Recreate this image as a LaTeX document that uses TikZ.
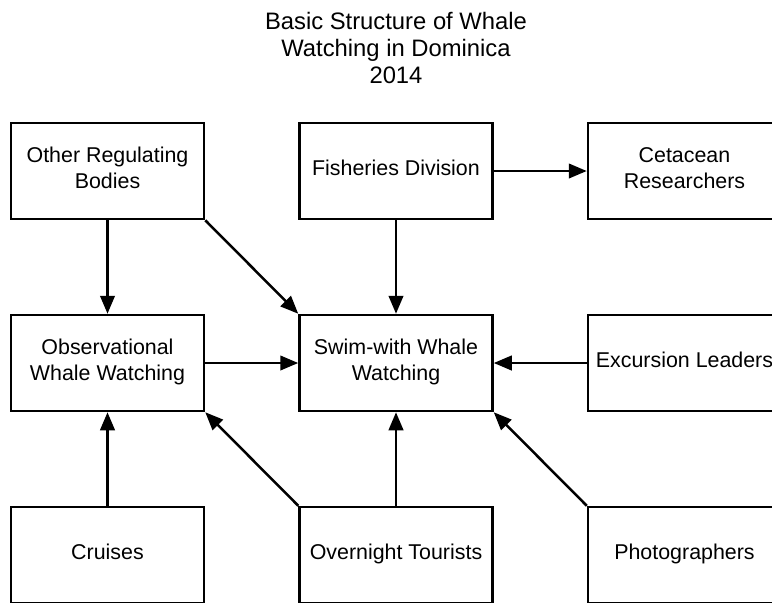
\documentclass[tikz,border=0pt]{standalone}
\usepackage{fontspec}
\setmainfont{Liberation Sans}
\usetikzlibrary{arrows.meta}
\begin{document}
\begin{tikzpicture}[x=1pt,y=-1pt,
  box/.style={draw, line width=2.5pt, rectangle, minimum width=193pt, minimum height=96pt,
    inner sep=2pt, align=center, text depth=6pt, font=\fontsize{21.4}{26}\selectfont},
  link/.style={line width=2.5pt, -{Triangle[length=18pt,width=14.5pt]}},
  heading/.style={align=center, font=\fontsize{23.8}{27}\selectfont}]
  \useasboundingbox (0,0) rectangle (772,603);
  \clip (0,0) rectangle (772,603);

  \node[heading] (title) at (396,48) {Basic Structure of Whale\\Watching in Dominica\\2014};

  % top row
  \node[box] (orb) at (107.5,171) {Other Regulating\\Bodies};
  \node[box] (fish) at (396,171) {Fisheries Division};
  \node[box] (cet) at (684.5,171) {Cetacean\\Researchers};
  % middle row
  \node[box] (obs) at (107.5,363) {Observational\\Whale Watching};
  \node[box] (swim) at (396,363) {Swim-with Whale\\Watching};
  \node[box] (exc) at (684.5,363) {Excursion Leaders};
  % bottom row
  \node[box] (cru) at (107.5,555) {Cruises};
  \node[box] (ovn) at (396,555) {Overnight Tourists};
  \node[box] (pho) at (684.5,555) {Photographers};

  % connectors
  \draw[link] (orb.south) -- (obs.north);
  \draw[link] (orb.south east) -- (swim.north west);
  \draw[link] (fish.south) -- (swim.north);
  \draw[link] (fish.east) -- (cet.west);
  \draw[link] (obs.east) -- (swim.west);
  \draw[link] (exc.west) -- (swim.east);
  \draw[link] (cru.north) -- (obs.south);
  \draw[link] (ovn.north west) -- (obs.south east);
  \draw[link] (ovn.north) -- (swim.south);
  \draw[link] (pho.north west) -- (swim.south east);
\end{tikzpicture}
\end{document}
